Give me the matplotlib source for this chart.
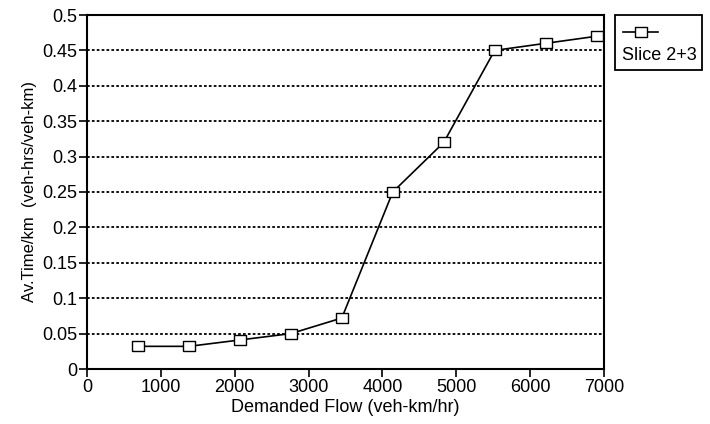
import matplotlib.pyplot as plt
from matplotlib.lines import Line2D
from matplotlib.patches import Rectangle

plt.rcParams['font.family'] = ['Liberation Sans', 'DejaVu Sans']

# data
flow = [690, 1380, 2070, 2760, 3450, 4140, 4830, 5520, 6210, 6900]
av_time = [0.032, 0.032, 0.041, 0.050, 0.072, 0.250, 0.320, 0.450, 0.460, 0.470]
series_name = 'Slice 2+3'
x_ticks = [0, 1000, 2000, 3000, 4000, 5000, 6000, 7000]
y_ticks = [0, 0.05, 0.1, 0.15, 0.2, 0.25, 0.3, 0.35, 0.4, 0.45, 0.5]
y_tick_labels = ['0', '0.05', '0.1', '0.15', '0.2', '0.25', '0.3', '0.35', '0.4', '0.45', '0.5']

# wide open rectangle marker
rect = [(-1.3, -1), (1.3, -1), (1.3, 1), (-1.3, 1), (-1.3, -1)]

fig = plt.figure(figsize=(7.1, 4.24), dpi=100)
ax = fig.add_axes([87 / 710, 1 - 369 / 424, 517 / 710, 354 / 424])

ax.plot(flow, av_time, color='black', lw=1.2, marker=rect, ms=9,
        mfc='white', mec='black', mew=1.0, zorder=3)

ax.set_xlim(0, 7000)
ax.set_ylim(0, 0.5)
ax.set_xticks(x_ticks)
ax.set_yticks(y_ticks)
ax.set_yticklabels(y_tick_labels)
ax.tick_params(axis='both', direction='out', length=6, width=1.2,
               labelsize=13, colors='black', pad=1)
ax.tick_params(top=False, right=False)

for y in y_ticks[1:-1]:
    ax.axhline(y, color='black', lw=1.3, ls=(0, (1.5, 1.2)), zorder=1)

for s in ax.spines.values():
    s.set_linewidth(1.5)

ax.set_xlabel('Demanded Flow (veh-km/hr)', fontsize=13, labelpad=2)
ax.set_ylabel('Av.Time/km  (veh-hrs/veh-km)', fontsize=12, labelpad=4)

# legend box with marker above the text
W, H = 710, 424
fig.patches.append(Rectangle((615 / W, 1 - 70 / H), 87 / W, 55 / H,
                             transform=fig.transFigure, fill=False,
                             ec='black', lw=1.3))
fig.lines.append(Line2D([623 / W, 658 / W], [1 - 32 / H, 1 - 32 / H],
                        transform=fig.transFigure, color='black', lw=1.2))
fig.lines.append(Line2D([641 / W], [1 - 32 / H], transform=fig.transFigure,
                        marker=rect, ms=9, mfc='white', mec='black', mew=1.0))
fig.text(622 / W, 1 - 56 / H, series_name, fontsize=13, va='center', ha='left')

fig.savefig('out.png', dpi=100)
